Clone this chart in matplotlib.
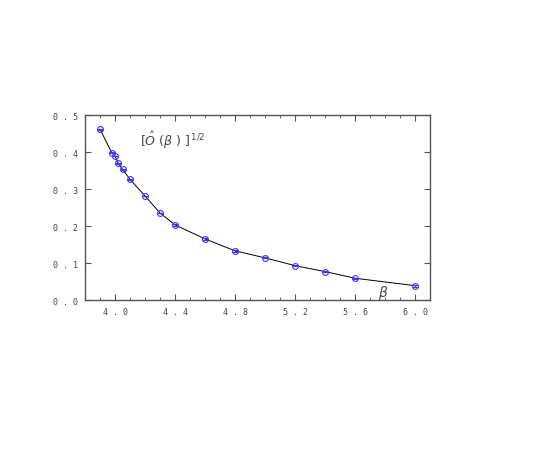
import matplotlib.pyplot as plt
import numpy as np

# beta values and the measured quantity
beta = [3.9, 3.978, 4.0, 4.022, 4.05, 4.1, 4.2, 4.3, 4.4, 4.6, 4.8, 5.0, 5.2, 5.4, 5.6, 6.0]
obs = [0.462, 0.399, 0.390, 0.370, 0.354, 0.327, 0.282, 0.236, 0.204,
       0.166, 0.134, 0.115, 0.094, 0.078, 0.060, 0.040]
err = [0.001, 0.001, 0.001, 0.001, 0.001, 0.001, 0.001, 0.001, 0.002,
       0.002, 0.002, 0.001, 0.002, 0.002, 0.002, 0.003]

xticks = [4.0, 4.4, 4.8, 5.2, 5.6, 6.0]
yticks = [0.0, 0.1, 0.2, 0.3, 0.4, 0.5]

fig = plt.figure(figsize=(5.45, 4.52), dpi=100)
ax = fig.add_axes([0.156, 0.333, 0.633, 0.410])

ax.plot(beta, obs, color='black', lw=0.7)
ax.errorbar(beta, obs, yerr=err, fmt='o', ms=4.2, mfc='none', mec='#3a3aff',
            mew=0.8, ecolor='#3a3aff', elinewidth=0.8, capsize=2.2, capthick=0.8)

ax.set_xlim(3.8, 6.1)
ax.set_ylim(0.0, 0.5)
ax.set_xticks(xticks)
ax.set_xticklabels([' . '.join(f'{v:.1f}'.split('.')) for v in xticks],
                   family='DejaVu Sans Mono', fontsize=6, color='#444444')
ax.set_xticks(np.arange(3.9, 6.05, 0.1), minor=True)
ax.set_yticks(yticks)
ax.set_yticklabels([' . '.join(f'{v:.1f}'.split('.')) for v in yticks],
                   family='DejaVu Sans Mono', fontsize=6, color='#444444')
ax.tick_params(which='both', direction='in', top=True, right=True,
               color='#555555')
ax.tick_params(which='major', length=4, pad=5)
ax.tick_params(which='minor', length=2)
for s in ax.spines.values():
    s.set_color('#555555')
    s.set_linewidth(1.0)

ax.text(4.167, 0.42, r'[$\hat{O}$ ($\beta$ ) ]$^{\,1/2}$', fontsize=9,
        color='#444444', family='DejaVu Sans')
ax.text(5.75, 0.012, r'$\beta$', fontsize=10, color='#444444')

fig.savefig('out.png', dpi=100)
